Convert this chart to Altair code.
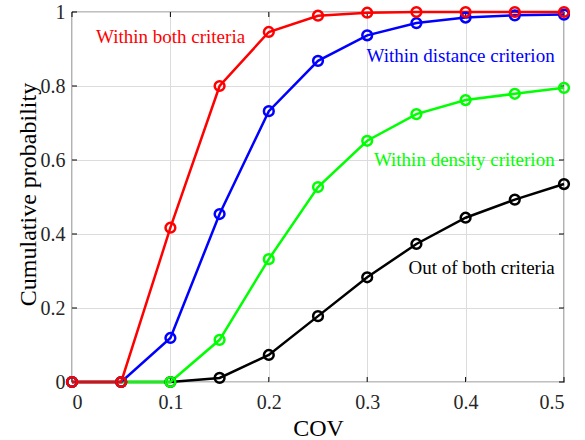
import altair as alt
import pandas as pd

cov = [0.0, 0.05, 0.10, 0.15, 0.20, 0.25, 0.30, 0.35, 0.40, 0.45, 0.50]
both = [0.0, 0.0, 0.417, 0.800, 0.946, 0.990, 0.998, 1.0, 1.0, 1.0, 1.0]
distance = [0.0, 0.0, 0.119, 0.454, 0.732, 0.868, 0.937, 0.970, 0.985, 0.991, 0.993]
density = [0.0, 0.0, 0.0, 0.114, 0.332, 0.527, 0.652, 0.724, 0.762, 0.779, 0.795]
outside = [0.0, 0.0, 0.0, 0.011, 0.073, 0.178, 0.283, 0.373, 0.444, 0.493, 0.535]

series_names = ["Out of both criteria", "Within density criterion",
                "Within distance criterion", "Within both criteria"]
series_values = [outside, density, distance, both]
series_colors = ["#000000", "#00FF00", "#0000FF", "#FF0000"]

x_ticks = [0, 0.1, 0.2, 0.3, 0.4, 0.5]
y_ticks = [0, 0.2, 0.4, 0.6, 0.8, 1.0]

rows = []
for order, (name, vals) in enumerate(zip(series_names, series_values)):
    for x, y in zip(cov, vals):
        rows.append({"series": name, "cov": x, "p": y, "order": order})
df = pd.DataFrame(rows)

# annotation labels (data coordinates)
ann_text = ["Within both criteria", "Within distance criterion",
            "Within density criterion", "Out of both criteria"]
ann_x = [0.0244, 0.4905, 0.4905, 0.4905]
ann_y = [0.932, 0.881, 0.600, 0.308]
ann_align = ["left", "right", "right", "right"]
ann_color = ["#FF0000", "#0000FF", "#00FF00", "#000000"]

FONT = "Times New Roman, Liberation Serif, serif"
H = 370
W = 492

xs = alt.Scale(domain=[0, 0.5], nice=False, zero=False)
ys = alt.Scale(domain=[0, 1], nice=False, zero=False)

base = alt.Chart(df)

x_axis = alt.Axis(values=x_ticks, format="~g", title="COV", tickSize=0,
                  labelPadding=10, domain=False,
                  titleX=W / 2, titleY=53, titleBaseline="alphabetic", titleAlign="center",
                  grid=True, gridColor="#DCDCDC", gridWidth=1)
y_axis = alt.Axis(values=y_ticks, format="~g", title="Cumulative probability",
                  tickSize=0, labelPadding=7, domain=False,
                  titleX=-37, titleY=182, titleAngle=270, titleBaseline="alphabetic",
                  titleAlign="center",
                  grid=True, gridColor="#DCDCDC", gridWidth=1)

lines = alt.layer(*[
    base.transform_filter(alt.datum.series == name).mark_line(strokeWidth=2.5, color=c).encode(
        x=alt.X("cov:Q", scale=xs, axis=x_axis),
        y=alt.Y("p:Q", scale=ys, axis=y_axis),
    )
    for name, c in zip(series_names, series_colors)
] + [
    base.transform_filter(alt.datum.series == name).mark_point(
        shape="circle", filled=False, size=95, strokeWidth=2.5, color=c, opacity=1).encode(
        x=alt.X("cov:Q", scale=xs), y=alt.Y("p:Q", scale=ys))
    for name, c in zip(series_names, series_colors)
])

tick_df_x = pd.DataFrame({"v": x_ticks})
tick_df_y = pd.DataFrame({"v": y_ticks})
tick_len = 5
xt_bottom = alt.Chart(tick_df_x).mark_rule(color="black", strokeWidth=1).encode(
    x=alt.X("v:Q", scale=xs), y=alt.value(H), y2=alt.value(H - tick_len))
xt_top = alt.Chart(tick_df_x).mark_rule(color="black", strokeWidth=1).encode(
    x=alt.X("v:Q", scale=xs), y=alt.value(0), y2=alt.value(tick_len))
yt_left = alt.Chart(tick_df_y).mark_rule(color="black", strokeWidth=1).encode(
    y=alt.Y("v:Q", scale=ys), x=alt.value(0), x2=alt.value(tick_len))
yt_right = alt.Chart(tick_df_y).mark_rule(color="black", strokeWidth=1).encode(
    y=alt.Y("v:Q", scale=ys), x=alt.value(W), x2=alt.value(W - tick_len))

ann_df = pd.DataFrame({"t": ann_text, "x": ann_x, "y": ann_y})
ann_layers = []
for i in range(len(ann_text)):
    ann_layers.append(
        alt.Chart(ann_df.iloc[[i]]).mark_text(
            font=FONT, fontSize=19, align=ann_align[i], baseline="middle", color=ann_color[i]
        ).encode(x=alt.X("x:Q", scale=xs), y=alt.Y("y:Q", scale=ys), text="t:N")
    )

chart = alt.layer(xt_bottom, xt_top, yt_left, yt_right, lines, *ann_layers).properties(
    width=W, height=H,
    padding={"left": 72, "top": 12, "right": 21, "bottom": 58},
    autosize="none",
    background="white",
).configure_view(
    stroke="black", strokeWidth=1.2
).configure_axis(
    labelFont=FONT, titleFont=FONT, labelFontSize=20, titleFontSize=24,
    labelColor="#262626", titleColor="#000000", titleFontWeight="normal",
)

chart.save("out.html", embed_options={"renderer": "svg", "actions": False})
